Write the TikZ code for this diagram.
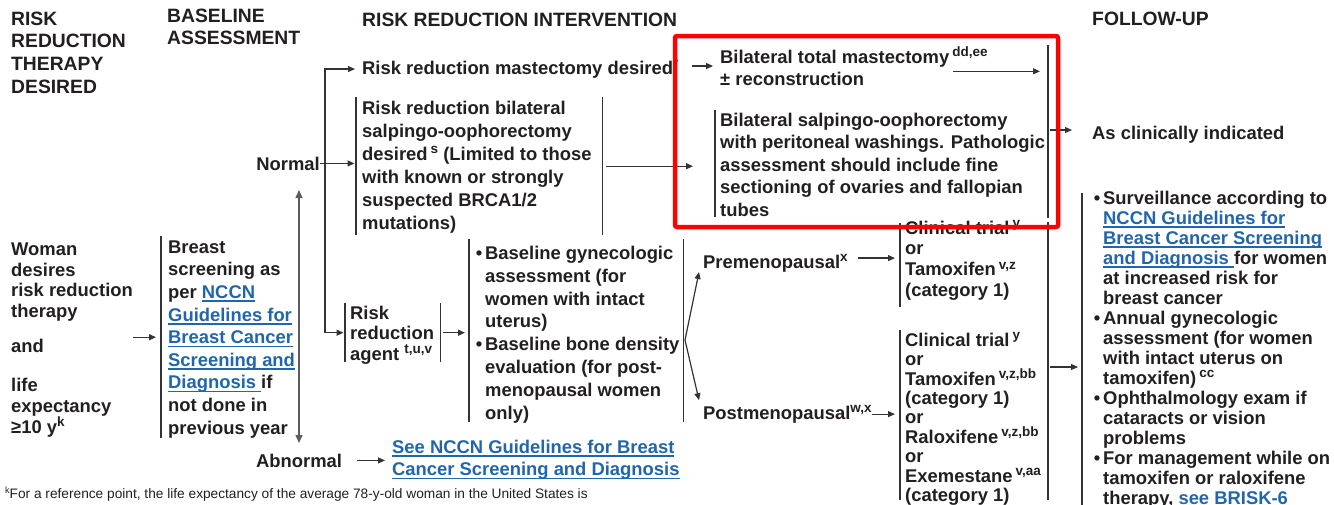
\documentclass[tikz,border=0pt]{standalone}
\usepackage{fontspec}
\setmainfont{Liberation Sans}
\usetikzlibrary{arrows.meta}
\definecolor{ink}{HTML}{231F20}
\definecolor{linkc}{HTML}{2166AC}
\definecolor{rulec}{HTML}{333333}
\definecolor{hl}{HTML}{FF0000}
% raised small note marks
\newcommand\sps[1]{\raisebox{6.5pt}{\fontsize{13.5}{13.5}\selectfont #1}}
% underlined guideline links
\newcommand\lnk[1]{\setbox0\hbox{#1}\rlap{\color{linkc}\rule[-3.5pt]{\wd0}{1.5pt}}{\color{linkc}#1}}
% fixed first-line height so that text blocks align on their first baseline
\newcommand\lnA{\rule{0pt}{20pt}}
\newcommand\bul{\llap{\textbullet\hspace{3pt}}}
\begin{document}
\begin{tikzpicture}[x=1pt,y=-1pt,
  every node/.style={text=ink, inner sep=0pt, font=\fontsize{18.4}{22.6}\selectfont\bfseries},
  txt/.style={anchor=north west, align=left},
  hdr/.style={anchor=north west, align=left, font=\fontsize{19.3}{22.7}\selectfont\bfseries},
  frame/.style={anchor=north west, minimum width=0pt, draw=none},
  br/.style={draw=rulec, line width=1.3pt},
  arr/.style={draw=rulec, line width=1.2pt, -{Triangle[length=7pt,width=6pt]}},
  darr/.style={draw=rulec!80, line width=1.3pt, {Triangle[length=8pt,width=7pt]}-{Triangle[length=8pt,width=7pt]}},
]
\useasboundingbox (0,0) rectangle (1334,504);
\fill[white] (0,0) rectangle (1334,504);
\clip (0,0) rectangle (1334,504);

% column headings
\node[hdr] (hA) at (11,5) {\lnA RISK\\REDUCTION\\THERAPY\\DESIRED};
\node[hdr, font=\fontsize{19.3}{22}\selectfont\bfseries] (hB) at (167,2) {\lnA BASELINE\\ASSESSMENT};
\node[hdr] (hC) at (362,6) {\lnA RISK REDUCTION INTERVENTION};
\node[hdr] (hD) at (1092,5) {\lnA FOLLOW-UP};

% entry condition
\node[txt, font=\fontsize{18.4}{20.8}\selectfont\bfseries] (woman) at (11,235)
  {\lnA Woman\\desires\\risk reduction\\therapy\\[14.2pt]and\\[18.2pt]life\\expectancy\\≥10 y\sps{k}};

% baseline assessment
\node[frame, minimum height=202pt] (brF) at (161,236) {};
\draw[br] (brF.north west) -- (brF.south west);
\node[txt] (breast) at (168,233)
  {\lnA Breast\\screening as\\per \lnk{NCCN}\\\lnk{Guidelines for}\\\lnk{Breast Cancer}\\\lnk{Screening and}\\\lnk{Diagnosis }if\\not done in\\previous year};
\draw[arr, shorten >=5pt] (woman.east |- brF.west) -- (brF.west);

\node[anchor=base east] (normal) at (320,170) {Normal};
\node[anchor=base west] (abnormal) at (256,467) {Abnormal};
\coordinate (resUp) at (299,190);
\coordinate (resDn) at (299,443);
\draw[darr] (resUp) -- (resDn);

% interventions
\node[anchor=base west] (rrm) at (362,74) {Risk reduction mastectomy desired\sps{r}};

\node[frame, minimum width=246pt, minimum height=138pt] (rrsoF) at (356,97) {};
\draw[br] (rrsoF.north west) -- (rrsoF.south west);
\draw[br] (rrsoF.north east) -- (rrsoF.south east);
\node[txt, font=\fontsize{18.4}{23}\selectfont\bfseries] (rrso) at (362,94)
  {\lnA Risk reduction bilateral\\salpingo-oophorectomy\\desired\,\sps{s} (Limited to those\\with known or strongly\\suspected BRCA1/2\\mutations)};

\node[frame, minimum width=95pt, minimum height=59pt] (agF) at (345,303) {};
\draw[br] (agF.north west) -- (agF.south west);
\draw[br] (agF.north east) -- (agF.south east);
\node[txt, font=\fontsize{18.4}{20.5}\selectfont\bfseries] (agent) at (350,299)
  {\lnA Risk\\reduction\\agent \sps{t,u,v}};

\coordinate (fk) at ([xshift=5pt]normal.east);
\draw[arr, shorten >=1.5pt] (normal.east) -- (normal.east -| rrsoF.west);
\draw[arr, shorten >=7pt] (fk) |- (rrm.west);
\draw[arr, shorten >=1.5pt] (fk) |- (agF.west);

\node[frame, minimum width=214pt, minimum height=183pt] (baseF) at (469,239) {};
\draw[br] (baseF.north west) -- (baseF.south west);
\draw[br] (baseF.north east) -- (baseF.south east);
\node[txt, font=\fontsize{18.4}{22.9}\selectfont\bfseries] (base) at (485,239)
  {\lnA\bul Baseline gynecologic\\assessment (for\\women with intact\\uterus)\\\bul Baseline bone density\\evaluation (for post-\\menopausal women\\only)};
\draw[arr, shorten <=3pt, shorten >=4pt] (agF.east) -- (agF.east -| baseF.west);

\node[txt] (seeN) at (392,433)
  {\lnA\lnk{See NCCN Guidelines for Breast}\\\lnk{Cancer Screening and Diagnosis}};
\draw[arr, shorten <=15pt, shorten >=7pt] (abnormal.east) -- (abnormal.east -| seeN.west);

% surgery
\node[txt, font=\fontsize{18.4}{22}\selectfont\bfseries] (btm) at (720,43)
  {\lnA Bilateral total mastectomy\,\sps{dd,ee}\\± reconstruction};
\coordinate (rrmOut) at ([xshift=13pt,yshift=3pt]rrm.east);
\draw[arr, shorten >=7pt] (rrmOut) -- (rrmOut -| btm.west);

\node[frame, minimum height=107pt] (bsoF) at (715,110) {};
\draw[br] (bsoF.north west) -- (bsoF.south west);
\node[txt, font=\fontsize{18.4}{22.5}\selectfont\bfseries] (bso) at (720,106)
  {\lnA Bilateral salpingo-oophorectomy\\with peritoneal washings. Pathologic\\assessment should include fine\\sectioning of ovaries and fallopian\\tubes};
\draw[arr, shorten <=4pt, shorten >=22pt] (rrsoF.east) -- (rrsoF.east -| bsoF.west);

\coordinate (upRt) at (1048,45);
\coordinate (upRb) at (1048,218);
\draw[br] (upRt) -- (upRb);
\coordinate (btmOut) at ([xshift=-35pt,yshift=-7pt]btm.east);
\draw[arr, shorten >=8pt] (btmOut) -- (btmOut -| upRt);

\node[anchor=base west] (aci) at (1092,139) {As clinically indicated};
\coordinate (upMid) at (1048,130);
\draw[arr, shorten <=2pt, shorten >=20pt] (upMid) -- (upMid -| aci.west);

% chemoprevention
\coordinate (fkB) at (685,340);
\node[anchor=base west] (pre) at (703,268) {Premenopausal\sps{x}};
\node[anchor=base west] (post) at (703,419) {Postmenopausal\sps{w,x}};
\draw[arr] (fkB) -- ([xshift=-4pt]pre.south west);
\draw[arr] (fkB) -- ([xshift=-4pt,yshift=5pt]post.north west);

\node[frame, minimum height=84pt] (c1F) at (900,223) {};
\draw[br] (c1F.north west) -- (c1F.south west);
\node[txt, font=\fontsize{18.4}{20.7}\selectfont\bfseries] (c1) at (905,214)
  {\lnA Clinical trial\,\sps{y}\\or\\Tamoxifen\,\sps{v,z}\\(category 1)};
\coordinate (preOut) at ([xshift=10pt,yshift=5pt]pre.east);
\draw[arr, shorten >=5pt] (preOut) -- (preOut -| c1F.west);

\node[frame, minimum height=170pt] (c2F) at (900,330) {};
\draw[br] (c2F.north west) -- (c2F.south west);
\node[txt, font=\fontsize{18.4}{19.4}\selectfont\bfseries] (c2) at (905,326)
  {\lnA Clinical trial\,\sps{y}\\or\\Tamoxifen\,\sps{v,z,bb}\\(category 1)\\or\\Raloxifene\,\sps{v,z,bb}\\or\\Exemestane\,\sps{v,aa}\\(category 1)};
\draw[arr, shorten >=5pt] (post.east) -- (post.east -| c2F.west);

\coordinate (loRt) at (1048,222);
\coordinate (loRb) at (1048,500);
\draw[br] (loRt) -- (loRb);

% follow-up
\node[frame, minimum height=320pt] (fuF) at (1082,193) {};
\draw[br] (fuF.north west) -- (fuF.south west);
\node[txt, font=\fontsize{18.4}{20}\selectfont\bfseries] (fu) at (1103,184)
  {\lnA\bul Surveillance according to\\\lnk{NCCN Guidelines for}\\\lnk{Breast Cancer Screening}\\\lnk{and Diagnosis }for women\\at increased risk for\\breast cancer\\\bul Annual gynecologic\\assessment (for women\\with intact uterus on\\tamoxifen)\,\sps{cc}\\\bul Ophthalmology exam if\\cataracts or vision\\problems\\\bul For management while on\\tamoxifen or raloxifene\\therapy, {\color{linkc}see BRISK-6}};
\coordinate (loMid) at (1048,367);
\draw[arr, shorten <=2pt, shorten >=4pt] (loMid) -- (loMid -| fuF.west);

% footnote
\node[anchor=base west, font=\fontsize{13.7}{16}\selectfont] (fn) at (5,498)
  {\raisebox{4.5pt}{\fontsize{9}{9}\selectfont k}For a reference point, the life expectancy of the average 78-y-old woman in the United States is};

% highlight frame
\draw[hl, line width=4.5pt, rounded corners=2pt] (675,36) rectangle (1058,227);
\end{tikzpicture}
\end{document}
